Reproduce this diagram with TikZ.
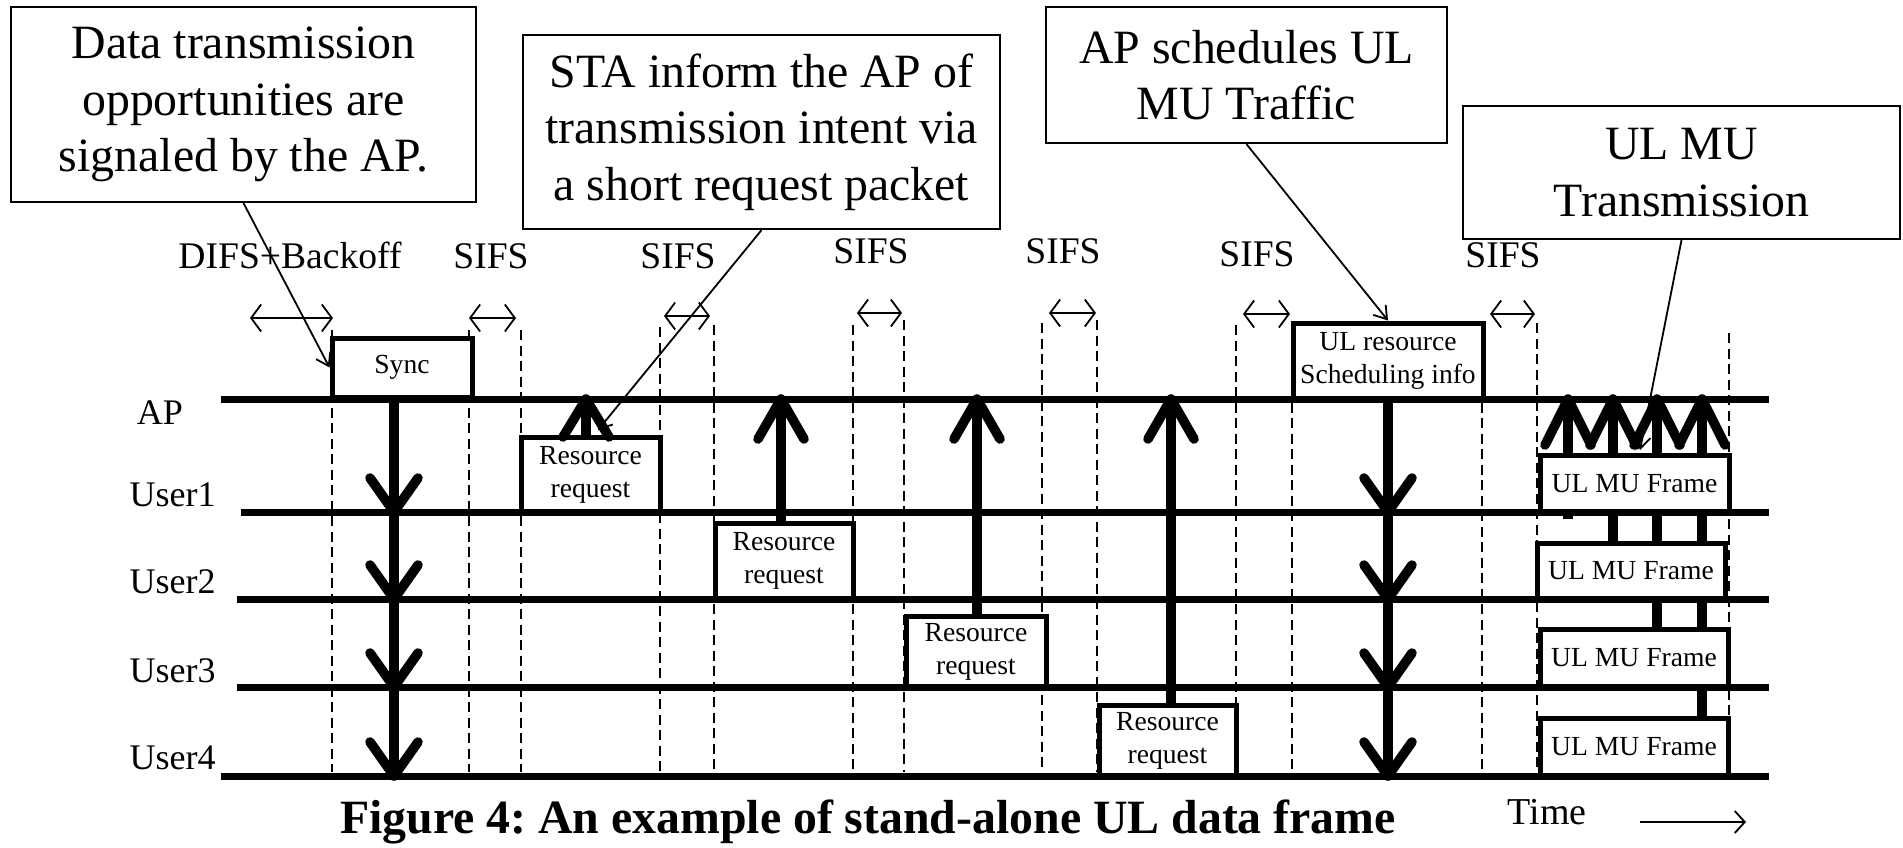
\documentclass[tikz,border=0pt]{standalone}
\usepackage{fontspec}
\setmainfont{Liberation Serif}
\usetikzlibrary{arrows.meta,calc}
\frenchspacing

\tikzset{
  lane/.style={line width=3.5pt},
  guide/.style={line width=1pt, dash pattern=on 5pt off 2.75pt},
  slot/.style={draw, line width=2.5pt, fill=white, inner sep=0pt, align=center,
    font=\fontsize{13.8}{16.5}\selectfont},
  note/.style={draw, line width=1.1pt, fill=white, inner sep=0pt, align=center,
    font=\fontsize{23.9}{28.2}\selectfont},
  gaparrow/.style={line width=0.9pt,
    {Straight Barb[length=5pt,width=13.5pt]}-{Straight Barb[length=5pt,width=13.5pt]}},
  timearrow/.style={line width=0.9pt, -{Straight Barb[length=5pt,width=11pt]}},
  pointer/.style={line width=0.9pt, -{Straight Barb[length=6pt,width=8pt]}},
  shaft/.style={line width=4.8pt},
  chev/.style={line width=4.8pt, line cap=round, line join=round},
  gaplabel/.style={inner sep=0pt, font=\fontsize{18.8}{22}\selectfont},
  lanelabel/.style={inner sep=0pt, font=\fontsize{18}{21}\selectfont},
}

% open arrow heads of the fat signal arrows
\newcommand\chevdown[1]{\draw[chev] ($(#1)+(-24,-34)$) -- (#1) -- ($(#1)+(24,-34)$);}
\newcommand\chevup[3]{\draw[chev] ($(#1)+(-#2,#3)$) -- (#1) -- ($(#1)+(#2,#3)$);}

\begin{document}
\begin{tikzpicture}[x=0.5pt, y=-0.5pt]
\useasboundingbox (0,0) rectangle (1903,847);

% ---- time slot boundaries
\foreach \gx/\gy in {332/330, 469/330, 521/330, 660/327, 714/325, 853/325,
  904/320, 1042/323, 1097/320, 1236/325, 1292/325, 1482/325, 1537/323, 1729/333}
  \draw[guide] (\gx,\gy) -- (\gx,772);

% ---- lanes
\coordinate (apL) at (221,399); \coordinate (apR) at (1769,399);
\coordinate (u1L) at (241,512); \coordinate (u1R) at (1769,512);
\coordinate (u2L) at (237,599); \coordinate (u2R) at (1769,599);
\coordinate (u3L) at (237,687); \coordinate (u3R) at (1769,687);
\coordinate (u4L) at (221,776); \coordinate (u4R) at (1769,776);

% ---- arrow tips on the lanes
\coordinate (sd1) at (394,512); \coordinate (sd2) at (394,599);
\coordinate (sd3) at (394,687); \coordinate (sd4) at (394,776);
\coordinate (qd1) at (1388,512); \coordinate (qd2) at (1388,599);
\coordinate (qd3) at (1388,687); \coordinate (qd4) at (1388,776);
\coordinate (r1t) at (586,399); \coordinate (r2t) at (781,399);
\coordinate (r3t) at (977,399); \coordinate (r4t) at (1171,399);
\coordinate (m1t) at (1568,399); \coordinate (m2t) at (1613,399);
\coordinate (m3t) at (1657,399); \coordinate (m4t) at (1702,399);
\coordinate (m1foot) at (1568,519);

% ---- slot boxes
\node[slot, minimum width=70pt, minimum height=29.5pt] (sync) at (402,367.5) {Sync};
\node[slot, minimum width=69.5pt, minimum height=37.5pt] (rr1) at (590.5,474.5) {Resource\\request};
\node[slot, minimum width=69pt, minimum height=38pt] (rr2) at (784,561) {Resource\\request};
\node[slot, minimum width=70pt, minimum height=35.5pt] (rr3) at (976,651.5) {Resource\\request};
\node[slot, minimum width=68.5pt, minimum height=35.5pt] (rr4) at (1167.5,740.5) {Resource\\request};
\node[slot, minimum width=95pt, minimum height=38pt] (sched) at (1388,361) {UL resource\\Scheduling info};

% ---- shafts of the signal arrows (behind the frames)
\draw[shaft] (sync.south -| sd1) -- (sd4);
\draw[shaft] (sched.south -| qd1) -- (qd4);
\draw[shaft] (rr1.north -| r1t) -- (r1t);
\draw[shaft] (rr2.north -| r2t) -- (r2t);
\draw[shaft] (rr3.north -| r3t) -- (r3t);
\draw[shaft] (rr4.north -| r4t) -- (r4t);
\draw[shaft] (m1foot) -- (m1t);

\node[slot, minimum width=94pt, minimum height=29pt] (muD) at (1634,747) {UL MU Frame};
\draw[shaft] (muD.north -| m4t) -- (m4t);
\node[slot, minimum width=94pt, minimum height=29pt] (muC) at (1634,658) {UL MU Frame};
\draw[shaft] (muC.north -| m3t) -- (m3t);
\node[slot, minimum width=94pt, minimum height=28pt] (muB) at (1631,571) {UL MU Frame};
\draw[shaft] (muB.north -| m2t) -- (m2t);
\node[slot, minimum width=94.5pt, minimum height=28.5pt] (muA) at (1634.5,483.5) {UL MU Frame};

% ---- lanes on top
\draw[lane] (apL) -- (apR);
\draw[lane] (u1L) -- (u1R);
\draw[lane] (u2L) -- (u2R);
\draw[lane] (u3L) -- (u3R);
\draw[lane] (u4L) -- (u4R);

\node[lanelabel] (lap) at (160,413) {AP};
\node[lanelabel, anchor=east] (lu1) at (216,495) {User1};
\node[lanelabel, anchor=east] (lu2) at (216,582) {User2};
\node[lanelabel, anchor=east] (lu3) at (216,671) {User3};
\node[lanelabel, anchor=east] (lu4) at (216,758) {User4};

% ---- arrow heads
\chevdown{sd1}\chevdown{sd2}\chevdown{sd3}\chevdown{sd4}
\chevdown{qd1}\chevdown{qd2}\chevdown{qd3}\chevdown{qd4}
\chevup{r1t}{23}{38}\chevup{r2t}{23}{40}\chevup{r3t}{23}{40}\chevup{r4t}{23}{40}
\chevup{m1t}{23}{46}\chevup{m2t}{23}{46}\chevup{m3t}{23}{46}\chevup{m4t}{23}{46}

% ---- interframe spaces
\coordinate (i0a) at (250,318);  \coordinate (i0b) at (333,318);
\coordinate (i1a) at (469,318);  \coordinate (i1b) at (516,318);
\coordinate (i2a) at (664,316);  \coordinate (i2b) at (710,316);
\coordinate (i3a) at (857,313);  \coordinate (i3b) at (902,313);
\coordinate (i4a) at (1049,313); \coordinate (i4b) at (1096,313);
\coordinate (i5a) at (1243,314); \coordinate (i5b) at (1290,314);
\coordinate (i6a) at (1490,314); \coordinate (i6b) at (1535,314);
\foreach \k in {0,...,6} \draw[gaparrow] (i\k a) -- (i\k b);

\node[gaplabel] (l0) at (290,255) {DIFS+Backoff};
\node[gaplabel] (l1) at (491,256) {SIFS};
\node[gaplabel] (l2) at (678,256) {SIFS};
\node[gaplabel] (l3) at (871,251) {SIFS};
\node[gaplabel] (l4) at (1063,251) {SIFS};
\node[gaplabel] (l5) at (1257,254) {SIFS};
\node[gaplabel] (l6) at (1503,255) {SIFS};

% ---- callouts
\node[note, minimum width=232.5pt, minimum height=97.5pt] (n1) at (243.5,104.5)
  {Data transmission\\opportunities are\\signaled by the AP.};
\node[note, minimum width=238.5pt, minimum height=97pt] (n2) at (761.5,132)
  {STA inform the AP of\\transmission intent via\\a short request packet};
\node[note, minimum width=200.5pt, minimum height=68pt] (n3) at (1246.5,75)
  {AP schedules UL\\MU Traffic};
\node[note, minimum width=218.5pt, minimum height=66.5pt] (n4) at (1681.5,172.5)
  {UL MU\\Transmission};

\coordinate (n2end) at (598,430);
\coordinate (n4end) at (1640,450);
\draw[pointer] (n1.south) -- (sync.west);
\draw[pointer] (n2.south) -- (n2end);
\draw[pointer] (n3.south) -- (sched.north);
\draw[pointer] (n4.south) -- (n4end);

% ---- caption and time axis
\node[inner sep=0pt, font=\bfseries\fontsize{23.9}{28}\selectfont] (cap) at (868,822)
  {Figure 4: An example of stand-alone UL data frame};
\node[inner sep=0pt, font=\fontsize{19}{22}\selectfont] (time) at (1547,812) {Time};
\coordinate (t0) at (1640,822); \coordinate (t1) at (1746,822);
\draw[timearrow] (t0) -- (t1);
\end{tikzpicture}
\end{document}
